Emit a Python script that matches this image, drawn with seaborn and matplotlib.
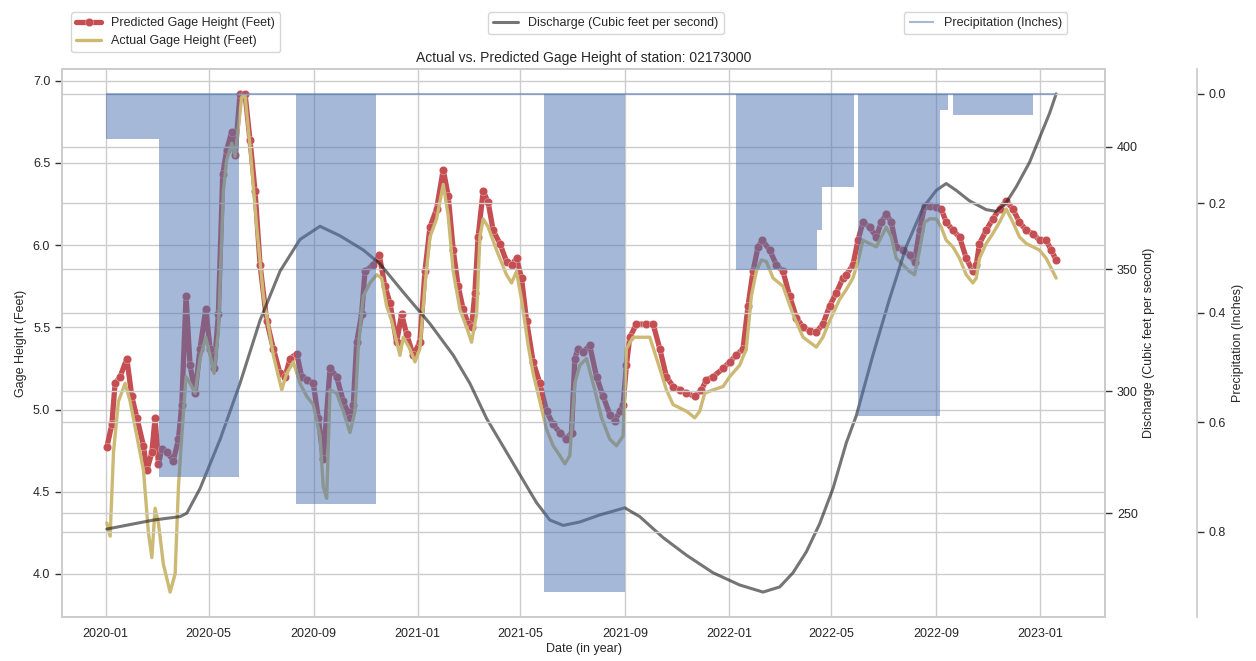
import numpy as np
import pandas as pd
import matplotlib
matplotlib.use("Agg")
import matplotlib.pyplot as plt
import matplotlib.dates as mdates
from matplotlib.ticker import MultipleLocator
import seaborn as sns

# ---------------- data (days since 2020-01-01) ----------------
START = "2020-01-01"

pred_days = [1.5, 7.4, 11.2, 17.1, 25.0, 30.8, 36.7, 44.5, 48.4, 54.3, 58.1, 62.0, 66.0, 71.8, 79.6,
             85.5, 89.4, 94.4, 99.1, 105.0, 110.8, 117.5, 122.6, 127.3, 132.3, 137.4, 142.1, 148.0,
             151.9, 157.7, 163.6, 169.4, 175.3, 181.2, 189.0, 196.8, 204.6, 210.5, 216.3, 224.2,
             230.0, 235.9, 243.6, 249.5, 255.3, 263.2, 271.0, 278.8, 286.6, 290.5, 294.5, 300.3,
             304.2, 314.0, 321.0, 327.6, 333.5, 341.3, 347.2, 353.0, 360.8, 368.6, 374.5, 380.4,
             388.2, 396.0, 401.8, 407.7, 413.5, 419.4, 425.2, 429.2, 433.1, 436.9, 442.8, 448.7,
             454.5, 462.4, 470.2, 476.1, 481.9, 487.8, 493.7, 501.4, 509.3, 517.1, 524.9, 532.7,
             540.5, 546.4, 550.3, 554.1, 560.0, 567.8, 575.7, 583.5, 591.3, 597.2, 603.0, 606.9,
             610.8, 614.7, 622.6, 634.3, 642.1, 649.9, 657.7, 665.5, 673.3, 681.2, 690.9, 698.7,
             704.6, 712.4, 724.1, 731.9, 739.7, 747.5, 753.4, 759.2, 765.1, 770.2, 778.8, 786.6,
             794.4, 802.2, 810.1, 817.9, 825.7, 833.5, 841.2, 849.1, 856.9, 864.7, 868.6, 876.4,
             882.3, 888.1, 896.0, 903.8, 909.7, 915.5, 921.4, 927.2, 935.0, 942.8, 948.7, 954.5,
             960.4, 966.3, 974.1, 979.9, 985.8, 993.6, 1001.4, 1009.3, 1017.0, 1021.0, 1024.8,
             1032.7, 1040.4, 1048.3, 1056.1, 1063.9, 1071.7, 1079.6, 1087.4, 1095.2, 1103.0,
             1108.9, 1114.7]
pred_gage = [4.77, 4.91, 5.16, 5.20, 5.31, 5.08, 4.95, 4.78, 4.63, 4.74, 4.95, 4.67, 4.76, 4.74, 4.69,
             4.82, 5.03, 5.69, 5.27, 5.10, 5.37, 5.61, 5.37, 5.25, 5.58, 6.43, 6.58, 6.69,
             6.55, 6.92, 6.92, 6.64, 6.33, 5.88, 5.54, 5.37, 5.22, 5.20, 5.31, 5.34,
             5.20, 5.18, 5.16, 4.95, 4.70, 5.25, 5.20, 5.05, 4.95, 5.03, 5.41, 5.58,
             5.84, 5.88, 5.94, 5.75, 5.65, 5.41, 5.58, 5.46, 5.33, 5.41, 5.84, 6.11,
             6.22, 6.46, 6.30, 5.97, 5.75, 5.61, 5.52, 5.50, 5.71, 6.05, 6.33, 6.26,
             6.09, 6.01, 5.90, 5.88, 5.92, 5.80, 5.54, 5.29, 5.16, 4.99, 4.91, 4.86,
             4.82, 4.86, 5.31, 5.37, 5.35, 5.39, 5.20, 5.08, 4.97, 4.93, 4.99, 5.03,
             5.27, 5.44, 5.52, 5.52, 5.52, 5.37, 5.20, 5.14, 5.12, 5.10, 5.08, 5.12,
             5.18, 5.20, 5.25, 5.29, 5.33, 5.37, 5.63, 5.84, 5.99, 6.03, 5.97, 5.88,
             5.84, 5.69, 5.56, 5.50, 5.48, 5.47, 5.52, 5.63, 5.71, 5.80, 5.82, 5.88,
             6.03, 6.14, 6.11, 6.05, 6.14, 6.19, 6.14, 5.99, 5.97, 5.94, 5.90, 6.09,
             6.24, 6.24, 6.23, 6.22, 6.14, 6.09, 6.05, 5.92, 5.84, 5.88, 6.01,
             6.09, 6.16, 6.22, 6.27, 6.22, 6.14, 6.09, 6.07, 6.03, 6.03,
             5.97, 5.91]

actual_days = [1.5, 5.4, 9.3, 15.1, 23.0, 28.8, 36.7, 44.5, 50.3, 54.3, 58.1, 62.0, 67.8, 75.7, 81.6,
               85.5, 89.4, 94.4, 99.1, 105.0, 110.8, 117.5, 122.6, 127.3, 132.3, 138.2, 142.1, 148.0,
               151.9, 159.7, 163.6, 169.4, 177.3, 185.1, 196.8, 206.6, 212.4, 220.2, 228.0, 235.9,
               243.6, 251.5, 255.3, 259.3, 263.2, 271.0, 278.8, 286.6, 292.5, 296.3, 302.2, 310.0,
               317.9, 323.8, 329.6, 335.5, 345.2, 349.1, 356.9, 362.8, 368.6, 374.5, 380.4, 388.2,
               396.0, 401.8, 407.7, 415.5, 423.4, 429.2, 435.1, 439.0, 442.8, 448.7, 458.5, 470.2,
               476.1, 481.9, 487.8, 495.6, 501.4, 509.3, 517.1, 524.9, 532.7, 538.6, 544.4, 550.3,
               556.1, 564.0, 573.7, 581.6, 591.3, 599.1, 606.9, 610.8, 618.6, 626.4, 638.2, 649.9,
               657.7, 665.5, 673.3, 681.2, 690.9, 696.7, 702.6, 712.4, 724.1, 731.9, 743.6, 751.4,
               757.3, 763.1, 769.0, 774.9, 782.7, 794.4, 806.1, 817.9, 825.7, 833.5, 841.2, 849.1,
               860.8, 868.6, 876.4, 882.3, 888.1, 896.0, 903.8, 909.7, 915.5, 921.4, 927.2, 935.0,
               942.8, 948.7, 954.5, 960.4, 966.3, 974.1, 979.9, 985.8, 993.6, 1001.4, 1009.3,
               1017.0, 1021.0, 1024.8, 1032.7, 1040.4, 1048.3, 1056.1, 1063.9, 1071.7, 1079.6,
               1087.4, 1095.2, 1103.0, 1108.9, 1114.7]
actual_gage = [4.31, 4.23, 4.74, 5.05, 5.16, 5.05, 4.84, 4.63, 4.25, 4.10, 4.40, 4.31, 4.06, 3.89, 4.00,
               4.53, 4.84, 5.20, 5.16, 5.10, 5.31, 5.44, 5.33, 5.22, 5.48, 6.33, 6.52, 6.62,
               6.54, 6.90, 6.91, 6.60, 6.11, 5.69, 5.33, 5.12, 5.22, 5.29, 5.16, 5.08,
               5.03, 4.84, 4.53, 4.46, 5.12, 5.10, 4.99, 4.86, 4.99, 5.37, 5.69, 5.77,
               5.82, 5.80, 5.63, 5.54, 5.33, 5.44, 5.37, 5.29, 5.37, 5.75, 6.05, 6.16,
               6.37, 6.18, 5.84, 5.61, 5.50, 5.41, 5.58, 6.05, 6.16, 6.11, 5.97, 5.82,
               5.77, 5.84, 5.67, 5.39, 5.22, 5.05, 4.88, 4.78, 4.72, 4.67, 4.72, 5.16,
               5.27, 5.31, 5.12, 4.95, 4.82, 4.78, 4.84, 5.37, 5.44, 5.44, 5.44, 5.25,
               5.12, 5.03, 5.01, 4.99, 4.95, 4.99, 5.10, 5.12, 5.14, 5.20, 5.27, 5.37,
               5.69, 5.84, 5.91, 5.90, 5.80, 5.75, 5.58, 5.44, 5.41, 5.38, 5.44, 5.54,
               5.67, 5.73, 5.80, 5.90, 6.03, 6.01, 5.99, 6.05, 6.11, 6.05, 5.92, 5.88,
               5.84, 5.82, 5.97, 6.14, 6.16, 6.16, 6.11, 6.03, 5.99, 5.92, 5.82,
               5.77, 5.80, 5.92, 6.01, 6.07, 6.14, 6.22, 6.14, 6.05, 6.01,
               5.99, 5.97, 5.92, 5.86, 5.80]

discharge_days = [1.5, 56.2, 87.4, 95.3, 110.8, 134.3, 157.7, 181.2, 204.6, 228.0, 251.5, 274.9,
                  302.2, 321.8, 349.1, 380.4, 407.7, 427.2, 446.8, 466.3, 485.8, 505.4, 521.0,
                  536.6, 556.1, 579.6, 608.9, 626.4, 653.8, 681.2, 712.4, 743.6, 771.0, 790.5,
                  806.1, 821.8, 837.4, 853.0, 868.6, 880.4, 899.8, 919.2, 938.9, 958.4, 974.1,
                  985.8, 997.5, 1013.1, 1032.7, 1044.4, 1056.1, 1067.8, 1083.5, 1095.2, 1107.0,
                  1114.7]
discharge_cfs = [243.5, 247.2, 248.6, 250.0, 260.1, 280.2, 303.2, 329.0, 349.1, 362.1, 367.5, 363.6,
                 357.8, 352.1, 340.5, 327.6, 314.7, 303.2, 288.8, 277.3, 265.8, 254.3, 247.2,
                 245.0, 246.4, 249.3, 252.2, 248.6, 240.0, 232.8, 225.6, 220.6, 217.7, 219.8,
                 225.6, 234.2, 245.7, 260.1, 278.8, 290.0, 314.7, 337.6, 359.2, 375.0, 382.2,
                 385.0, 382.2, 377.9, 374.3, 373.6, 377.2, 383.6, 393.7, 403.7, 413.8,
                 421.7]

# precipitation periods: start day, end day, inches
precip_start = [0.0, 62.8, 223.0, 514.0, 739.7, 834.0, 840.0, 882.0, 978.0, 993.6]
precip_end = [62.8, 156.6, 316.7, 609.0, 834.0, 840.0, 878.0, 978.0, 988.0, 1087.0]
precip_inch = [0.082, 0.699, 0.750, 0.910, 0.322, 0.249, 0.170, 0.589, 0.030, 0.039]

# visible date window (days since start)
x_window = [-51, 1172]


def to_dates(days):
    return pd.Timestamp(START) + pd.to_timedelta(np.asarray(days, dtype=float), unit="D")


# ---------------- style ----------------
sns.set_theme(style="whitegrid", color_codes=True)
plt.rcParams["font.family"] = ["Liberation Sans", "DejaVu Sans"]
FS = 9

fig = plt.figure(figsize=(12.56, 6.61), dpi=100)
ax = fig.add_axes([0.0494, 0.0666, 0.8304, 0.829])
ax2 = ax.twinx()
ax3 = ax.twinx()
ax3.spines["right"].set_position(("axes", 1.088))

# gage heights
sns.lineplot(x=to_dates(pred_days), y=pred_gage, ax=ax, color="r", linewidth=3.8,
             marker="o", markersize=6, mew=0.2, estimator=None,
             label="Predicted Gage Height (Feet)")
sns.lineplot(x=to_dates(actual_days), y=actual_gage, ax=ax, color="y", linewidth=2.4,
             estimator=None, label="Actual Gage Height (Feet)")

# discharge
sns.lineplot(x=to_dates(discharge_days), y=discharge_cfs, ax=ax2, color="k", alpha=0.6,
             linewidth=2.2, estimator=None, label="Discharge (Cubic feet per second)")

# precipitation (inverted axis)
p_start = to_dates(precip_start)
p_width = np.asarray(precip_end) - np.asarray(precip_start)
ax3.bar(p_start, precip_inch, width=p_width, align="edge", color="b", alpha=0.5, linewidth=0)
first_day = to_dates([min(pred_days[0], precip_start[0])])[0]
last_day = to_dates([pred_days[-1]])[0]
ax3.hlines(0, first_day, last_day, color="b", alpha=0.5, linewidth=1.5,
           label="Precipitation (Inches)")
pmax = max(precip_inch)
ax3.set_ylim(pmax * 1.05, -pmax * 0.05)

# axes formatting
xw = to_dates(x_window)
ax.set_xlim(xw[0], xw[1])
ax.xaxis.set_major_locator(mdates.MonthLocator(bymonth=[1, 5, 9]))
ax.xaxis.set_major_formatter(mdates.DateFormatter("%Y-%m"))
ax.yaxis.set_major_locator(MultipleLocator(0.5))
ax2.yaxis.set_major_locator(MultipleLocator(50))
ax3.yaxis.set_major_locator(MultipleLocator(0.2))

for a in (ax, ax2, ax3):
    a.tick_params(labelsize=FS, colors="0.15")
ax.tick_params(axis="y", left=True, length=5, width=1, color="0.2")
ax2.tick_params(axis="y", right=True, length=5, width=1, color="0.2")
ax3.tick_params(axis="y", right=True, length=5, width=1, color="0.2")
ax.tick_params(axis="x", bottom=False, pad=2)

ax.set_xlabel("Date (in year)", fontsize=FS, labelpad=2)
ax.set_ylabel("Gage Height (Feet)", fontsize=FS)
ax2.set_ylabel("Discharge (Cubic feet per second)", fontsize=FS)
ax3.set_ylabel("Precipitation (Inches)", fontsize=FS)
ax.set_title("Actual vs. Predicted Gage Height of station: 02173000", fontsize=10, pad=5)

# legends
ax.legend(loc="upper left", bbox_to_anchor=(0.0518, 0.991), bbox_transform=fig.transFigure,
          fontsize=FS)
ax2.legend(loc="upper center", bbox_to_anchor=(0.4825, 0.991), bbox_transform=fig.transFigure,
           fontsize=FS)
ax3.legend(loc="upper center", bbox_to_anchor=(0.7846, 0.991), bbox_transform=fig.transFigure,
           fontsize=FS)

fig.savefig("out.png", dpi=100)
